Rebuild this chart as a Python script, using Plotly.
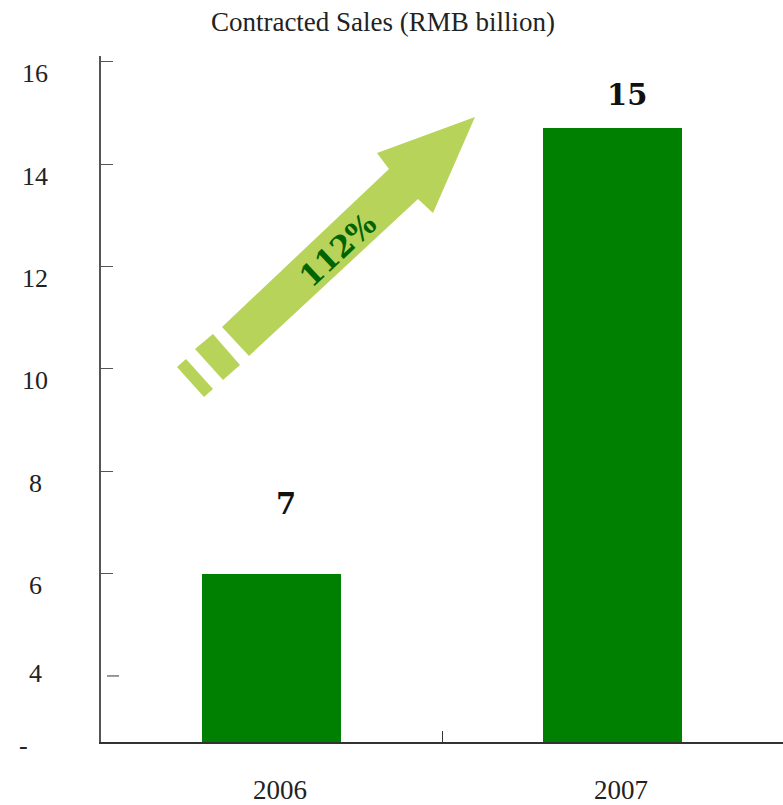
import plotly.graph_objects as go

# ---- data ----
categories = ["2006", "2007"]
bar_values = [6.0, 14.7]
value_labels = ["7", "15"]
label_positions = [7, 15]
growth_label = "112%"
y_tick_vals = [16, 14, 12, 10, 8, 6, 4]
y_tick_text = ["16", "14", "12", "10", "8", "6", "4"]
title_text = "Contracted Sales (RMB billion)"

W, H = 783, 805
L, R, T, B = 101, 0, 56, 63
PW, PH = W - L - R, H - T - B
Y0, Y1 = 2.71, 16.11

def px(x, y):
    return (x - L) / PW, (H - B - y) / PH

def path(points):
    pts = [px(x, y) for x, y in points]
    return "M " + " L ".join(f"{a:.5f},{b:.5f}" for a, b in pts) + " Z"

serif = "Liberation Serif, Times New Roman, serif"
slab = "DejaVu Serif, serif"
arrow_color = "#B8D35A"

fig = go.Figure()
fig.add_trace(go.Bar(x=categories, y=bar_values, width=0.41,
                     marker=dict(color="#008000", line=dict(width=0)),
                     hoverinfo="skip"))

shapes = []
# arrow body + head
shapes.append(dict(type="path", xref="paper", yref="paper", fillcolor=arrow_color,
                   line=dict(width=0), layer="below",
                   path=path([(475, 117), (433, 213), (418, 199), (249, 356),
                              (222, 327), (389, 169), (377, 153)])))
# tail segments
shapes.append(dict(type="path", xref="paper", yref="paper", fillcolor=arrow_color,
                   line=dict(width=0), layer="below",
                   path=path([(195, 349), (213, 334), (240, 365), (223, 380)])))
shapes.append(dict(type="path", xref="paper", yref="paper", fillcolor=arrow_color,
                   line=dict(width=0), layer="below",
                   path=path([(177, 367), (186, 359), (213, 389), (204, 397)])))
# floating tick at 4
x_a, _ = px(107, 0)
x_b, _ = px(119, 0)
shapes.append(dict(type="line", xref="paper", yref="y", x0=x_a, x1=x_b, y0=4, y1=4,
                   line=dict(color="#555555", width=1.2)))

annotations = []
# y tick labels
for v, t in zip(y_tick_vals, y_tick_text):
    annotations.append(dict(x=0, xref="paper", y=v, yref="y", text=t, showarrow=False,
                            xanchor="center", yanchor="middle", xshift=-66,
                            yshift=(2 if v == 4 else -12),
                            font=dict(family=serif, size=26, color="#222222")))
annotations.append(dict(x=0, xref="paper", y=Y0, yref="y", text="-", showarrow=False,
                        xanchor="center", yanchor="middle", xshift=-78, yshift=-3,
                        font=dict(family=serif, size=26, color="#222222")))
# x labels (category index positions)
for i, c in enumerate(categories):
    annotations.append(dict(x=i, xref="x", y=0, yref="paper", text=c, showarrow=False,
                            xanchor="center", yanchor="middle", xshift=8, yshift=-48,
                            font=dict(family=serif, size=27, color="#222222")))
# value labels
for i, (t, p) in enumerate(zip(value_labels, label_positions)):
    annotations.append(dict(x=i, xref="x", y=p, yref="y", text=t, showarrow=False,
                            xanchor="center", yanchor="middle", xshift=14, yshift=18,
                            font=dict(family=slab, size=29, color="#111111", weight="bold")))
# growth label on arrow
gx, gy = px(337, 250)
annotations.append(dict(x=gx, xref="paper", y=gy, yref="paper", text=growth_label,
                        showarrow=False, textangle=-43, xanchor="center", yanchor="middle",
                        font=dict(family=slab, size=30, color="#006400", weight="bold")))

fig.update_layout(
    width=W, height=H,
    margin=dict(l=L, r=R, t=T, b=B),
    paper_bgcolor="white", plot_bgcolor="white",
    showlegend=False,
    title=dict(text=title_text, xref="container", yref="container",
               x=383 / W, y=1 - 22 / H, xanchor="center", yanchor="middle",
               font=dict(family=serif, size=27, color="#222222")),
    xaxis=dict(type="category", range=[-0.5, 1.5], showline=True, linecolor="#333333",
               linewidth=1.5, ticks="inside", tickson="boundaries", ticklen=11,
               tickcolor="#333333", showticklabels=False, showgrid=False, zeroline=False,
               fixedrange=True),
    yaxis=dict(range=[Y0, Y1], showline=True, linecolor="#555555", linewidth=1.5,
               tickvals=[16, 14, 12, 10, 8, 6], ticks="inside", ticklen=12,
               tickcolor="#555555", showticklabels=False, showgrid=False,
               zeroline=False, fixedrange=True),
    shapes=shapes, annotations=annotations,
    bargap=0,
)

fig.write_html("out.html")
